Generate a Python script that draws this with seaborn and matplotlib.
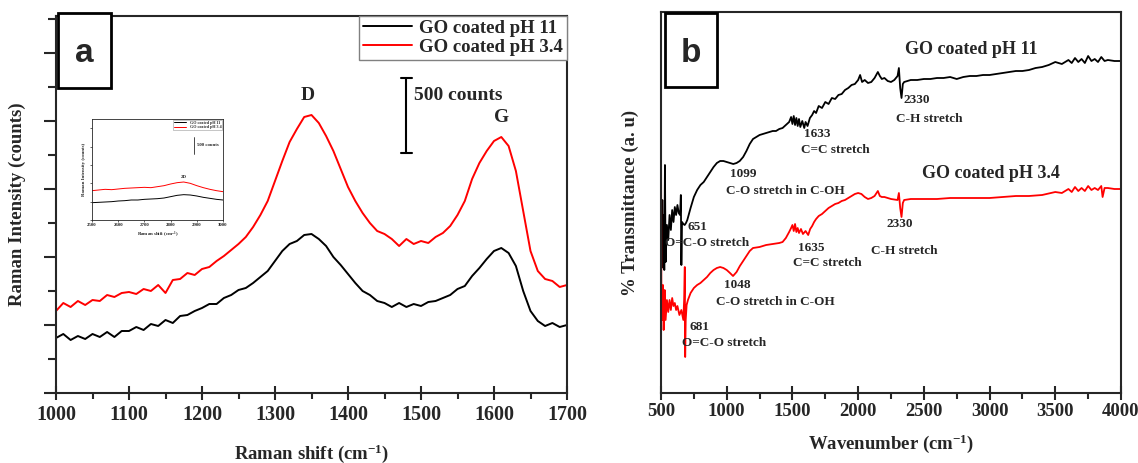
import matplotlib
matplotlib.use("Agg")
import matplotlib.pyplot as plt
from matplotlib.patches import Rectangle
from matplotlib.ticker import MultipleLocator, NullFormatter
import pandas as pd
import seaborn as sns

# ---------------- panel a : Raman spectra (intensity in a.u.)
raman_shift = list(range(1000, 1701, 10))
raman_ph11 = [55, 59, 53, 57, 54, 59, 56, 61, 56, 62, 62, 66, 63, 69, 67, 73, 70, 77, 78, 82,
              85, 89, 89, 95, 98, 103, 105, 110, 116, 122, 132, 142, 149, 152, 158, 159, 154, 147,
              136, 128, 119, 110, 102, 98, 92, 90, 86, 90, 86, 89, 87, 91, 92, 95, 98, 104, 107,
              117, 125, 134, 142, 145, 140, 127, 102, 82, 72, 67, 70, 66, 68]
raman_ph34 = [82, 90, 86, 92, 88, 93, 92, 98, 96, 100, 101, 99, 104, 102, 108, 100, 113, 114, 120,
              118, 124, 126, 132, 137, 143, 149, 156, 166, 178, 192, 212, 232, 251, 264, 276, 278,
              270, 257, 242, 224, 206, 192, 180, 170, 162, 159, 154, 147, 154, 149, 152, 150, 156,
              160, 167, 178, 192, 214, 230, 242, 252, 256, 247, 222, 182, 142, 122, 114, 112, 106, 108]

# inset : 2D band region
inset_shift = list(range(2500, 3001, 25))
inset_ph11 = [52, 53, 54, 55, 57, 58, 60, 60, 62, 63, 64, 66, 70, 74, 76, 75, 72, 68, 65, 62, 60]
inset_ph34 = [88, 90, 92, 91, 93, 95, 96, 97, 98, 97, 100, 103, 108, 112, 114, 110, 103, 97, 92, 88, 85]

# ---------------- panel b : FTIR (transmittance in a.u.)
ftir_ph11 = [(500, 163), (505, 125), (510, 193), (515, 128), (520, 178), (525, 123), (530, 228),
             (535, 131), (545, 168), (555, 153), (565, 178), (575, 163), (585, 183), (595, 171),
             (605, 186), (615, 178), (625, 188), (635, 180), (645, 178), (651, 198), (655, 128),
             (660, 171), (670, 169), (680, 168), (690, 170), (700, 173), (725, 185), (750, 196),
             (775, 203), (800, 208), (825, 211), (850, 216), (875, 221), (900, 226), (925, 230),
             (950, 232), (975, 232), (1000, 231), (1025, 230), (1050, 229), (1075, 230), (1099, 232),
             (1125, 236), (1150, 242), (1175, 249), (1200, 254), (1225, 256), (1250, 258),
             (1275, 259), (1300, 260), (1325, 261), (1350, 262), (1375, 262), (1400, 264),
             (1425, 265), (1450, 268), (1475, 271), (1490, 276), (1500, 269), (1510, 277),
             (1520, 268), (1530, 275), (1540, 267), (1550, 274), (1560, 266), (1575, 272),
             (1590, 265), (1600, 271), (1615, 267), (1633, 275), (1650, 278), (1665, 282),
             (1680, 280), (1700, 287), (1725, 285), (1750, 291), (1775, 289), (1800, 295),
             (1825, 294), (1850, 298), (1875, 299), (1900, 303), (1925, 305), (1950, 308),
             (1975, 309), (2000, 313), (2015, 318), (2030, 311), (2050, 313), (2075, 310),
             (2100, 311), (2125, 315), (2150, 321), (2165, 317), (2180, 314), (2200, 315),
             (2225, 312), (2250, 311), (2275, 313), (2300, 317), (2310, 325), (2320, 305),
             (2330, 295), (2340, 309), (2350, 311), (2375, 312), (2400, 313), (2450, 313),
             (2500, 314), (2550, 314), (2600, 315), (2650, 315), (2700, 316), (2750, 314),
             (2800, 316), (2850, 317), (2900, 317), (2950, 318), (3000, 318), (3050, 319),
             (3100, 320), (3150, 321), (3200, 322), (3250, 322), (3300, 323), (3350, 325),
             (3400, 326), (3450, 328), (3500, 331), (3550, 329), (3600, 333), (3625, 330),
             (3650, 335), (3675, 331), (3700, 334), (3725, 330), (3750, 337), (3775, 332),
             (3800, 334), (3825, 331), (3850, 336), (3875, 332), (3900, 333), (3950, 332),
             (4000, 332)]
ftir_ph34 = [(500, 273), (503, 93), (508, 73), (515, 108), (520, 63), (528, 103), (535, 73),
             (545, 93), (555, 81), (565, 93), (575, 83), (585, 95), (595, 87), (605, 90),
             (615, 83), (625, 87), (640, 78), (655, 83), (670, 73), (676, 93), (681, 126),
             (684, 36), (688, 73), (695, 88), (705, 93), (725, 100), (750, 105), (775, 108),
             (800, 110), (825, 113), (850, 116), (875, 120), (900, 123), (925, 125), (950, 126),
             (975, 125), (1000, 123), (1025, 120), (1048, 117), (1075, 121), (1100, 127),
             (1125, 132), (1150, 137), (1175, 142), (1200, 145), (1250, 146), (1300, 148),
             (1350, 149), (1400, 150), (1425, 151), (1450, 155), (1475, 161), (1490, 165),
             (1500, 168), (1510, 162), (1520, 169), (1530, 161), (1540, 165), (1550, 160),
             (1565, 164), (1580, 159), (1600, 162), (1620, 158), (1635, 164), (1650, 167),
             (1665, 171), (1680, 174), (1700, 177), (1725, 179), (1750, 182), (1775, 185),
             (1800, 187), (1825, 189), (1850, 190), (1875, 192), (1900, 193), (1925, 195),
             (1950, 197), (1975, 199), (2000, 200), (2025, 199), (2050, 196), (2075, 194),
             (2100, 195), (2125, 197), (2150, 202), (2165, 197), (2180, 196), (2200, 196),
             (2250, 194), (2300, 193), (2310, 200), (2320, 185), (2330, 176), (2340, 190),
             (2350, 193), (2400, 194), (2500, 194), (2600, 194), (2700, 195), (2800, 195),
             (2900, 195), (3000, 195), (3100, 196), (3200, 197), (3300, 197), (3400, 198),
             (3500, 201), (3550, 200), (3600, 204), (3625, 201), (3650, 206), (3675, 202),
             (3700, 205), (3725, 202), (3750, 207), (3775, 203), (3800, 205), (3825, 203),
             (3850, 207), (3860, 196), (3875, 205), (3900, 205), (3950, 204), (4000, 204)]

labels = ["GO coated pH 11", "GO coated pH 3.4"]
colors = ["black", "red"]

# band annotations: (text, wavenumber, height)
notes_b = [("2330", 2342, 293), ("C-H stretch", 2288, 274),
           ("1633", 1588, 259), ("C=C stretch", 1566, 243),
           ("1099", 1025, 219), ("C-O stretch in C-OH", 993, 202),
           ("651", 705, 166), ("O=C-O stretch", 530, 150),
           ("2330", 2212, 169), ("C-H stretch", 2098, 142),
           ("1635", 1543, 145), ("C=C stretch", 1505, 130),
           ("1048", 980, 108), ("C-O stretch in C-OH", 920, 91),
           ("681", 720, 66), ("O=C-O stretch", 660, 50)]

sns.set_style("ticks")
plt.rcParams["font.family"] = ["Liberation Serif", "DejaVu Serif"]
plt.rcParams["font.weight"] = "bold"
plt.rcParams["axes.labelweight"] = "bold"
plt.rcParams["mathtext.fontset"] = "custom"
plt.rcParams["mathtext.bf"] = "Liberation Serif:bold"
plt.rcParams["mathtext.rm"] = "Liberation Serif:bold"
plt.rcParams["mathtext.default"] = "bf"
plt.rcParams["axes.linewidth"] = 1.5

fig = plt.figure(figsize=(11.38, 4.63), dpi=100)
W, H = 1138, 463


def px_axes(x0, y0, x1, y1):
    return fig.add_axes([x0 / W, 1 - y1 / H, (x1 - x0) / W, (y1 - y0) / H])


# ---------------- panel a
ax1 = px_axes(56, 16, 567, 393)
df_a = pd.DataFrame({"shift": raman_shift, labels[0]: raman_ph11, labels[1]: raman_ph34})
for lab, col in zip(labels, colors):
    sns.lineplot(data=df_a, x="shift", y=lab, color=col, lw=1.4, label=lab, ax=ax1, estimator=None)
ax1.set_xlim(1000, 1700)
ax1.set_ylim(0, 377)
ax1.xaxis.set_major_locator(MultipleLocator(100))
ax1.xaxis.set_minor_locator(MultipleLocator(50))
ax1.yaxis.set_major_locator(MultipleLocator(68))
ax1.yaxis.set_minor_locator(MultipleLocator(34))
ax1.yaxis.set_major_formatter(NullFormatter())
ax1.tick_params(axis="x", which="major", direction="inout", length=10, width=1.5, labelsize=14.5, pad=4)
ax1.tick_params(axis="x", which="minor", direction="out", length=4, width=1.5)
ax1.tick_params(axis="y", which="major", direction="out", length=9, width=1.5)
ax1.tick_params(axis="y", which="minor", direction="out", length=6, width=1.5)
for t in ax1.get_xticklabels():
    t.set_fontweight("bold")
ax1.set_xlabel("Raman shift (cm$^{-1}$)", fontsize=13.5, labelpad=12)
ax1.set_ylabel("Raman Intensity (counts)", fontsize=13.5, labelpad=9)
ax1.text(1345, 297, "D", fontsize=14, ha="center", va="center")
ax1.text(1610, 276, "G", fontsize=14, ha="center", va="center")
ax1.plot([1480, 1480], [240, 315], color="black", lw=1.5)
ax1.plot([1473, 1487], [240, 240], color="black", lw=1.5)
ax1.plot([1473, 1487], [315, 315], color="black", lw=1.5)
ax1.text(1490, 297, "500 counts", fontsize=14, ha="left", va="center")
leg = ax1.legend(loc="upper right", bbox_to_anchor=(1, 1), borderaxespad=0, fancybox=False,
                 edgecolor="gray", fontsize=13.5, handlelength=2.6, labelspacing=0.1,
                 borderpad=0.2, handletextpad=0.4, framealpha=1)
leg.get_frame().set_linewidth(1.0)

# inset (2D band)
axi = px_axes(92, 119, 223, 220)
df_i = pd.DataFrame({"shift": inset_shift, labels[0]: inset_ph11, labels[1]: inset_ph34})
for lab, col in zip(labels, colors):
    sns.lineplot(data=df_i, x="shift", y=lab, color=col, lw=0.7, label=lab, ax=axi, estimator=None)
axi.set_xlim(2500, 3000)
axi.set_ylim(0, 303)
axi.xaxis.set_major_locator(MultipleLocator(100))
axi.yaxis.set_major_locator(MultipleLocator(55))
axi.yaxis.set_major_formatter(NullFormatter())
axi.tick_params(labelsize=3.5, length=1.5, width=0.5, pad=1)
for sp in axi.spines.values():
    sp.set_linewidth(0.6)
axi.set_xlabel("Raman shift (cm$^{-1}$)", fontsize=3.5, labelpad=2)
axi.set_ylabel("Raman Intensity (counts)", fontsize=3.5, labelpad=2)
axi.plot([2890, 2890], [198, 250], color="black", lw=0.5)
axi.text(2900, 224, "500 counts", fontsize=3.5, va="center")
axi.text(2850, 128, "2D", fontsize=3.5, ha="center", va="center")
li = axi.legend(loc="upper right", fontsize=3, handlelength=3, borderaxespad=0.2,
                fancybox=False, edgecolor="gray", labelspacing=0.1, borderpad=0.2)
li.get_frame().set_linewidth(0.4)

# ---------------- panel b
ax2 = px_axes(661, 12, 1121, 393)
for data, lab, col in zip([ftir_ph11, ftir_ph34], labels, colors):
    df_b = pd.DataFrame(data, columns=["wavenumber", "T"])
    sns.lineplot(data=df_b, x="wavenumber", y="T", color=col, lw=1.3, ax=ax2,
                 estimator=None, sort=False)
ax2.set_xlim(500, 4000)
ax2.set_ylim(0, 381)
ax2.xaxis.set_major_locator(MultipleLocator(500))
ax2.xaxis.set_minor_locator(MultipleLocator(250))
ax2.set_yticks([])
ax2.tick_params(axis="x", which="major", direction="inout", length=10, width=1.5, labelsize=13.5, pad=2)
ax2.tick_params(axis="x", which="minor", direction="out", length=4, width=1.5)
for t in ax2.get_xticklabels():
    t.set_fontweight("bold")
ax2.set_xlabel("Wavenumber (cm$^{-1}$)", fontsize=13.5, labelpad=9)
ax2.set_ylabel("% Transmittance (a. u)", fontsize=13.5, labelpad=16)
ax2.text(2357, 343, labels[0], fontsize=13, va="center")
ax2.text(2486, 220, labels[1], fontsize=13, va="center")
for txt, x, y in notes_b:
    ax2.text(x, y, txt, fontsize=9.5, ha="left", va="center")

# panel letters in boxes
for (x0, y0, x1, y1), letter in [((58, 13, 111, 88), "a"), ((665, 13, 717, 87), "b")]:
    fig.patches.append(Rectangle((x0 / W, 1 - y1 / H), (x1 - x0) / W, (y1 - y0) / H,
                                 transform=fig.transFigure, fill=True, facecolor="white",
                                 edgecolor="black", lw=2, zorder=10))
    fig.text((x0 + x1) / 2 / W, 1 - ((y0 + y1) / 2 + 3) / H, letter, fontsize=24,
             family="Liberation Sans", weight="bold", ha="center", va="center", zorder=11)

fig.savefig("out.png", dpi=100)
